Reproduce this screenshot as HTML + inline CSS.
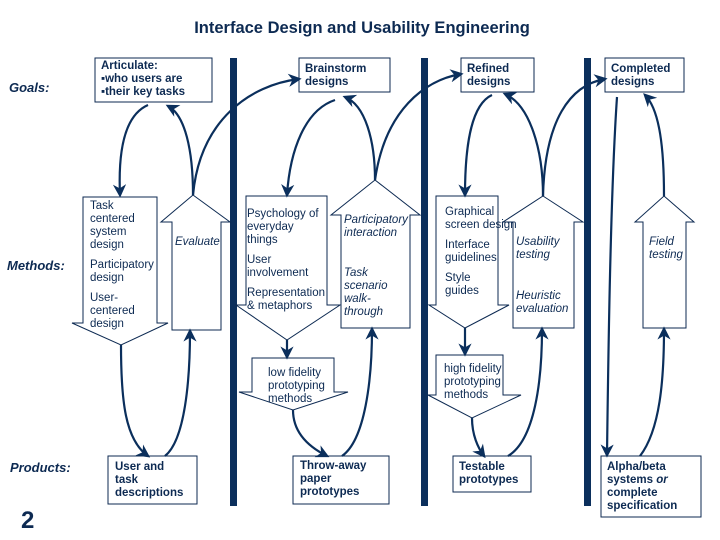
<!DOCTYPE html>
<html><head><meta charset="utf-8"><style>
body{margin:0;background:#fff}
svg{display:block}
text{font-family:"Liberation Sans",sans-serif;fill:#0d2a52;font-size:11.5px}
.b{font-weight:bold}
.i{font-style:italic}
</style></head><body>
<svg width="720" height="540" viewBox="0 0 720 540" xmlns="http://www.w3.org/2000/svg">
<defs>
<marker id="a" viewBox="0 0 10 10" refX="8" refY="5" markerWidth="6" markerHeight="6" orient="auto"><path d="M0,0 L10,5 L0,10 L3,5 z" fill="#0b2f5c"/></marker>
</defs>
<text x="362" y="33" text-anchor="middle" class="b" style="font-size:16.5px">Interface Design and Usability Engineering</text>
<!-- bars -->
<g fill="#0b2f5c">
<rect x="230" y="58" width="7" height="448"/>
<rect x="421" y="58" width="7" height="448"/>
<rect x="584" y="58" width="7" height="448"/>
</g>
<text x="9" y="92" class="b i" style="font-size:13px">Goals:</text>
<text x="7" y="270" class="b i" style="font-size:13px">Methods:</text>
<text x="10" y="472" class="b i" style="font-size:13px">Products:</text>
<text x="21" y="528" class="b" style="font-size:24px">2</text>
<g fill="#fff" stroke="#0d2a52" stroke-width="1">
<rect x="95" y="58" width="117" height="44"/>
<rect x="299" y="58" width="91" height="34"/>
<rect x="461" y="58" width="73" height="34"/>
<rect x="605" y="58" width="79" height="34"/>
<rect x="108" y="456" width="89" height="48"/>
<rect x="293" y="456" width="96" height="48"/>
<rect x="453" y="456" width="78" height="36"/>
<rect x="601" y="456" width="100" height="61"/>
<!-- down arrows -->
<path d="M83,197 H157 V323 H168 L121,345 L72,323 H83 Z"/>
<path d="M246,196 H327 V305 H340 L287,340 L236,305 H246 Z"/>
<path d="M436,196 H498 V305 H509 L465,328 L429,305 H436 Z"/>
<path d="M252,358 H334 V392 H348 L293,410 L239,392 H252 Z"/>
<path d="M436,355 H503 V395 H521 L472,418 L428,395 H436 Z"/>
<!-- up arrows -->
<path d="M193,195 L230,222 H221 V330 H172 V222 H161 Z"/>
<path d="M375,180 L420,215 H410 V328 H341 V215 H331 Z"/>
<path d="M543,196 L583,222 H574 V328 H513 V222 H503 Z"/>
<path d="M664,196 L694,222 H686 V328 H643 V222 H635 Z"/>
</g>
<g class="b">
<text x="101" y="69">Articulate:</text>
<text x="101" y="82">▪who users are</text>
<text x="101" y="95">▪their key tasks</text>
<text x="305" y="72">Brainstorm</text><text x="305" y="85">designs</text>
<text x="467" y="72">Refined</text><text x="467" y="85">designs</text>
<text x="611" y="72">Completed</text><text x="611" y="85">designs</text>
<text x="115" y="470">User and</text><text x="115" y="483">task</text><text x="115" y="496">descriptions</text>
<text x="300" y="469">Throw-away</text><text x="300" y="482">paper</text><text x="300" y="495">prototypes</text>
<text x="459" y="470">Testable</text><text x="459" y="483">prototypes</text>
<text x="607" y="470">Alpha/beta</text><text x="607" y="483">systems <tspan class="i">or</tspan></text><text x="607" y="496">complete</text><text x="607" y="509">specification</text>
</g>
<g>
<text x="90" y="209">Task</text><text x="90" y="222">centered</text><text x="90" y="235">system</text><text x="90" y="248">design</text>
<text x="90" y="268">Participatory</text><text x="90" y="281">design</text>
<text x="90" y="301">User-</text><text x="90" y="314">centered</text><text x="90" y="327">design</text>
<text x="247" y="217">Psychology of</text><text x="247" y="230">everyday</text><text x="247" y="243">things</text>
<text x="247" y="263">User</text><text x="247" y="276">involvement</text>
<text x="247" y="296">Representation</text><text x="247" y="309">&amp; metaphors</text>
<text x="445" y="215">Graphical</text><text x="445" y="228">screen design</text>
<text x="445" y="248">Interface</text><text x="445" y="261">guidelines</text>
<text x="445" y="281">Style</text><text x="445" y="294">guides</text>
<text x="268" y="376">low fidelity</text><text x="268" y="389">prototyping</text><text x="268" y="402">methods</text>
<text x="444" y="372">high fidelity</text><text x="444" y="385">prototyping</text><text x="444" y="398">methods</text>
</g>
<g class="i">
<text x="175" y="245">Evaluate</text>
<text x="344" y="223">Participatory</text><text x="344" y="236">interaction</text>
<text x="344" y="276">Task</text><text x="344" y="289">scenario</text><text x="344" y="302">walk-</text><text x="344" y="315">through</text>
<text x="516" y="245">Usability</text><text x="516" y="258">testing</text>
<text x="516" y="299">Heuristic</text><text x="516" y="312">evaluation</text>
<text x="649" y="245">Field</text><text x="649" y="258">testing</text>
</g>
<g fill="none" stroke="#0b2f5c" stroke-width="2.2" marker-end="url(#a)">
<path d="M148,105 C125,115 118,150 120,195"/>
<path d="M193,195 C193,150 185,115 168,106"/>
<path d="M193,195 C200,120 250,85 299,79"/>
<path d="M335,100 C305,110 290,150 287,195"/>
<path d="M375,180 C375,140 365,105 345,97"/>
<path d="M375,180 C385,110 425,80 461,74"/>
<path d="M492,95 C470,105 465,150 465,195"/>
<path d="M543,196 C543,150 530,105 505,94"/>
<path d="M543,196 C545,120 570,85 605,79"/>
<path d="M617,97 C610,200 608,380 607,455"/>
<path d="M664,196 C664,150 660,110 645,95"/>
<path d="M121,345 C121,400 125,440 148,456"/>
<path d="M165,456 C185,440 190,380 190,331"/>
<path d="M293,410 C293,430 305,445 327,456"/>
<path d="M342,456 C365,440 372,380 372,329"/>
<path d="M287,340 L287,357"/>
<path d="M465,328 L465,354"/>
<path d="M472,418 C472,435 478,448 484,456"/>
<path d="M508,456 C535,440 542,380 542,329"/>
<path d="M640,456 C660,430 664,380 664,329"/>
</g>
</svg>
</body></html>
